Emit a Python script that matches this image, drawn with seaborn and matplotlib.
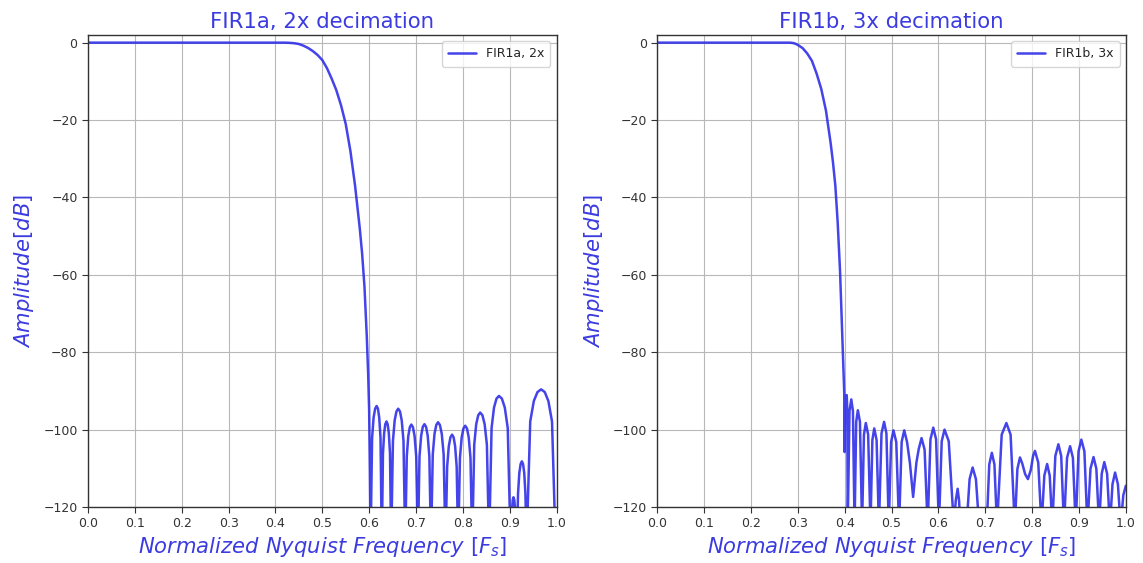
import matplotlib
matplotlib.use("Agg")
import matplotlib.pyplot as plt
import seaborn as sns
import pandas as pd

# ---------------- data ----------------
titles = ["FIR1a, 2x decimation", "FIR1b, 3x decimation"]
legend_labels = ["FIR1a, 2x", "FIR1b, 3x"]
x_ticks = [0.0, 0.1, 0.2, 0.3, 0.4, 0.5, 0.6, 0.7, 0.8, 0.9, 1.0]
y_ticks = [-120, -100, -80, -60, -40, -20, 0]

# FIR1a: passband + transition
fir1a_pass_f = [0.0, 0.1, 0.2, 0.3, 0.4, 0.42, 0.43, 0.44, 0.45, 0.46, 0.47, 0.48, 0.49,
                0.50, 0.51, 0.52, 0.53, 0.54, 0.55, 0.56, 0.57, 0.575, 0.58, 0.585, 0.59,
                0.595, 0.598, 0.600, 0.6015, 0.603]
fir1a_pass_db = [0, 0, 0, 0, 0, 0, -0.05, -0.15, -0.35, -0.8, -1.4, -2.2, -3.2,
                 -4.5, -6.6, -9.3, -12.3, -16.2, -21.0, -28.0, -37.0, -42.5, -48.0, -54.5, -63.0,
                 -76.0, -86.0, -95.0, -110.0, -130]
# FIR1a: stopband lobes
fir1a_stop_f = [0.6063, 0.6095, 0.6128, 0.616, 0.6188, 0.6215, 0.6243, 0.627,
                0.6295, 0.632, 0.6345, 0.637, 0.6395, 0.642, 0.6445, 0.647,
                0.6508, 0.6545, 0.6583, 0.662, 0.6658, 0.6695, 0.6733, 0.677,
                0.6803, 0.6835, 0.6868, 0.690, 0.6935, 0.697, 0.7005, 0.704,
                0.7075, 0.711, 0.7145, 0.718, 0.7215, 0.725, 0.7285, 0.732,
                0.7358, 0.7395, 0.7433, 0.747, 0.751, 0.755, 0.759, 0.763,
                0.7665, 0.770, 0.7735, 0.777, 0.7803, 0.7835, 0.7868, 0.790,
                0.7938, 0.7975, 0.8013, 0.805, 0.8088, 0.8125, 0.8163, 0.820,
                0.8243, 0.8285, 0.8328, 0.837, 0.8418, 0.8465, 0.8513, 0.856,
                0.8613, 0.8665, 0.8718, 0.877, 0.8833, 0.8895, 0.8958, 0.902,
                0.9035, 0.905, 0.9065, 0.908, 0.9098, 0.9115, 0.9133, 0.915,
                0.9178, 0.9205, 0.9233, 0.926, 0.9285, 0.931, 0.9335, 0.936,
                0.9438, 0.9515, 0.9593, 0.967, 0.9748, 0.9825, 0.9903, 0.998, 1.0]
fir1a_stop_db = [-102.2, -96.9, -94.6, -93.9, -94.6, -96.9, -102.2, -130,
                 -106.2, -100.9, -98.6, -97.9, -98.6, -100.9, -106.2, -130,
                 -102.9, -97.6, -95.3, -94.6, -95.3, -97.6, -102.9, -130,
                 -107.0, -101.7, -99.4, -98.7, -99.4, -101.7, -107.0, -130,
                 -106.9, -101.6, -99.3, -98.6, -99.3, -101.6, -106.9, -130,
                 -106.4, -101.1, -98.8, -98.1, -98.8, -101.1, -106.4, -130,
                 -109.6, -104.3, -102.0, -101.3, -102.0, -104.3, -109.6, -130,
                 -107.3, -102.0, -99.7, -99.0, -99.7, -102.0, -107.3, -130,
                 -103.9, -98.6, -96.3, -95.6, -96.3, -98.6, -103.9, -130,
                 -99.6, -94.3, -92.0, -91.3, -92.0, -94.3, -99.6, -130,
                 -125.8, -120.5, -118.2, -117.5, -118.2, -120.5, -125.8, -130,
                 -116.5, -111.2, -108.9, -108.2, -108.9, -111.2, -116.5, -130,
                 -97.9, -92.6, -90.3, -89.6, -90.3, -92.6, -97.9, -130, -130]

# FIR1b: passband + transition
fir1b_pass_f = [0.0, 0.1, 0.2, 0.28, 0.285, 0.29, 0.295, 0.30, 0.31, 0.32, 0.33, 0.34, 0.35,
                0.36, 0.37, 0.375, 0.38, 0.385, 0.39, 0.395, 0.398, 0.399]
fir1b_pass_db = [0, 0, 0, 0, -0.03, -0.1, -0.3, -0.6, -1.4, -2.8, -4.7, -8.0, -12.0,
                 -17.6, -26.0, -31.0, -37.0, -46.5, -59.0, -76.0, -87.0, -90.7]
# FIR1b: stopband lobes
fir1b_stop_f = [0.3997, 0.4005, 0.4025, 0.4043, 0.4055, 0.4064,
                0.4102, 0.414, 0.4175, 0.421,
                0.4245, 0.428, 0.4325, 0.437,
                0.441, 0.445, 0.450, 0.455,
                0.459, 0.463, 0.468, 0.473,
                0.4785, 0.484, 0.489, 0.494,
                0.499, 0.504, 0.510, 0.516,
                0.5215, 0.527, 0.533, 0.539, 0.543, 0.546, 0.549, 0.553, 0.558,
                0.564, 0.5705, 0.577,
                0.583, 0.589, 0.595, 0.601,
                0.607, 0.613, 0.622, 0.633,
                0.637, 0.641, 0.644, 0.647,
                0.653, 0.660,
                0.6665, 0.673, 0.680, 0.687,
                0.695, 0.703,
                0.7085, 0.714, 0.7195, 0.725,
                0.735, 0.745, 0.754, 0.763,
                0.7685, 0.774, 0.779, 0.785, 0.791, 0.797, 0.802, 0.806, 0.813, 0.820,
                0.826, 0.832, 0.8375, 0.843,
                0.8495, 0.856, 0.862, 0.868,
                0.8745, 0.881, 0.887, 0.893,
                0.899, 0.905, 0.9115, 0.918,
                0.9245, 0.931, 0.937, 0.943,
                0.9485, 0.954, 0.960, 0.966,
                0.9715, 0.977, 0.983, 0.989,
                0.9945, 1.0]
fir1b_stop_db = [-105.8, -94.0, -91.3, -91.1, -95.0, -125,
                 -95.2, -92.2, -95.2, -125,
                 -98.0, -95.0, -98.0, -125,
                 -101.3, -98.3, -101.3, -125,
                 -102.7, -99.7, -102.7, -125,
                 -101.0, -98.0, -101.0, -125,
                 -103.2, -100.2, -103.2, -125,
                 -103.2, -100.2, -103.2, -108.5, -113.5, -117.4, -113.5, -108.5, -105.0,
                 -102.2, -105.2, -125,
                 -102.5, -99.5, -102.5, -125,
                 -103.0, -100.0, -103.0, -125,
                 -118.3, -115.3, -118.3, -125,
                 -135, -125,
                 -112.8, -109.8, -112.8, -125,
                 -135, -125,
                 -109.0, -106.0, -109.0, -125,
                 -101.3, -98.3, -101.3, -125,
                 -110.2, -107.2, -108.8, -111.5, -112.8, -110.5, -106.8, -105.5, -108.5, -125,
                 -111.9, -108.9, -111.9, -125,
                 -106.8, -103.8, -106.8, -125,
                 -107.3, -104.3, -107.3, -125,
                 -105.6, -102.6, -105.6, -125,
                 -110.1, -107.1, -110.1, -125,
                 -111.4, -108.4, -111.4, -125,
                 -114.1, -111.1, -114.1, -125,
                 -117.0, -114.5]

series = [
    pd.DataFrame({"f": fir1a_pass_f + fir1a_stop_f, "db": fir1a_pass_db + fir1a_stop_db}),
    pd.DataFrame({"f": fir1b_pass_f + fir1b_stop_f, "db": fir1b_pass_db + fir1b_stop_db}),
]

# ---------------- drawing ----------------
sns.set_style("ticks")
plt.rcParams["font.family"] = ["DejaVu Sans"]
plt.rcParams["mathtext.fontset"] = "dejavusans"

line_color = "#2f2fe8"
text_color = "#3b3be0"

fig, axes = plt.subplots(1, 2, figsize=(11.43, 5.63), dpi=100)
fig.subplots_adjust(left=0.077, right=0.985, top=0.938, bottom=0.0995, wspace=0.215)

for ax, df, title, lab in zip(axes, series, titles, legend_labels):
    sns.lineplot(data=df, x="f", y="db", ax=ax, color=line_color, lw=1.8,
                 alpha=0.9, label=lab, estimator=None, sort=False)
    ax.set_xlim(0, 1.0)
    ax.set_ylim(-120, 2)
    ax.set_xticks(x_ticks)
    ax.set_yticks(y_ticks)
    ax.grid(True, color="#b8b8b8", lw=0.8)
    ax.set_axisbelow(True)
    for s in ax.spines.values():
        s.set_visible(True)
        s.set_color("#333333")
        s.set_linewidth(1.0)
    ax.tick_params(axis="both", labelsize=9, colors="#333333", length=4)
    ax.set_title(title, fontsize=15.3, color=text_color, pad=5)
    ax.set_xlabel(r"$Normalized\ Nyquist\ Frequency\ [F_s]$", fontsize=15.2,
                  color=text_color, labelpad=3)
    ax.set_ylabel(r"$Amplitude [dB]$", fontsize=15.2, color=text_color, labelpad=5)
    leg = ax.legend(loc="upper right", fontsize=9, frameon=True, fancybox=True,
                    handlelength=2.2, borderpad=0.5)
    leg.get_frame().set_edgecolor("#cccccc")

fig.savefig("out.png", dpi=100)
